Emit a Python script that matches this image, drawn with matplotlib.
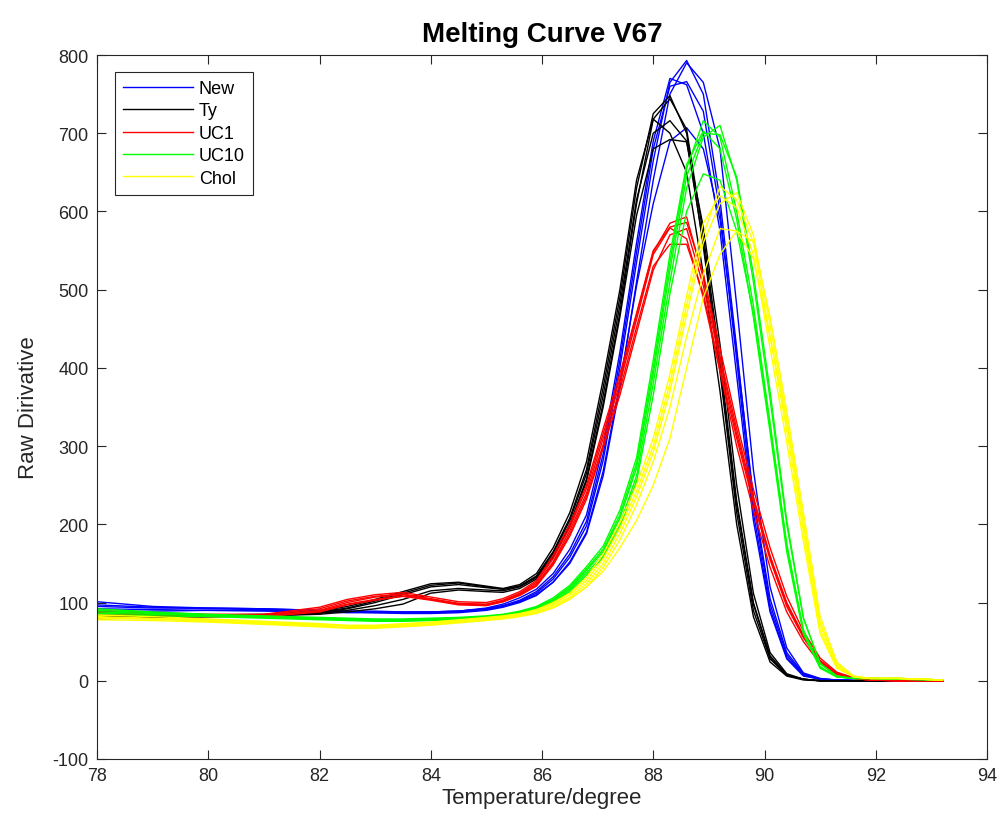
import matplotlib
matplotlib.use('Agg')
import matplotlib.pyplot as plt

plt.rcParams['font.family'] = ['Liberation Sans', 'DejaVu Sans']
plt.rcParams['axes.unicode_minus'] = False

# temperature grid (degree)
temps = [78, 79, 80, 81, 82, 82.5, 83, 83.5, 84, 84.5,
         85.0, 85.3, 85.6, 85.9, 86.2, 86.5, 86.8, 87.1, 87.4, 87.7,
         88.0, 88.3, 88.6, 88.9, 89.2, 89.5, 89.8, 90.1, 90.4, 90.7,
         91.0, 91.3, 91.6, 91.9, 92.4, 93.2]

# New (blue)
new_curves = [
    [97, 94, 92, 91, 89, 88, 88, 87, 87, 88, 91, 95, 102, 112, 130, 158, 198, 282, 400, 535, 665, 765, 793, 750, 615, 425, 228, 98, 33, 8, 2, 1, 1, 0, 0, 0],
    [101, 95, 93, 92, 90, 89, 88, 88, 88, 89, 92, 96, 101, 110, 126, 150, 188, 262, 375, 510, 640, 750, 790, 765, 680, 480, 270, 120, 42, 10, 3, 1, 0, 0, 0, 0],
    [92, 91, 90, 89, 88, 87, 87, 87, 88, 89, 93, 98, 106, 117, 137, 168, 212, 300, 420, 560, 690, 770, 762, 700, 575, 390, 205, 88, 28, 6, 2, 1, 0, 0, 0, 0],
    [88, 89, 90, 90, 89, 88, 87, 86, 86, 87, 90, 94, 100, 109, 126, 152, 190, 268, 380, 505, 610, 690, 707, 680, 590, 420, 235, 105, 36, 9, 2, 1, 0, 0, 0, 0],
    [95, 93, 93, 92, 90, 89, 89, 88, 88, 89, 92, 96, 103, 114, 133, 162, 204, 290, 410, 548, 680, 760, 766, 728, 600, 410, 215, 92, 30, 7, 2, 1, 0, 0, 0, 0],
]

# Ty (black)
ty_curves = [
    [80, 82, 83, 84, 88, 93, 102, 112, 122, 125, 120, 117, 121, 134, 165, 208, 270, 375, 490, 630, 725, 748, 700, 555, 395, 215, 90, 28, 7, 2, 0, 0, 0, 0, 0, 0],
    [82, 83, 84, 85, 89, 95, 104, 114, 124, 126, 121, 118, 123, 137, 170, 215, 280, 385, 500, 640, 718, 744, 705, 570, 410, 230, 100, 32, 8, 2, 0, 0, 0, 0, 0, 0],
    [79, 81, 82, 83, 86, 90, 96, 104, 115, 118, 116, 115, 120, 132, 160, 200, 258, 355, 470, 610, 718, 700, 650, 520, 370, 200, 82, 24, 6, 1, 0, 0, 0, 0, 0, 0],
    [81, 82, 83, 84, 87, 92, 100, 110, 120, 123, 119, 117, 121, 133, 163, 205, 265, 365, 480, 615, 700, 716, 690, 560, 400, 225, 98, 30, 7, 2, 0, 0, 0, 0, 0, 0],
    [80, 81, 82, 83, 85, 88, 92, 98, 112, 116, 114, 113, 118, 130, 158, 198, 255, 350, 465, 595, 680, 692, 689, 580, 430, 250, 112, 36, 9, 2, 0, 0, 0, 0, 0, 0],
]

# UC1 (red)
uc1_curves = [
    [88, 86, 84, 84, 92, 102, 108, 111, 105, 99, 98, 103, 112, 126, 156, 196, 246, 316, 386, 468, 548, 585, 593, 515, 415, 322, 235, 160, 100, 58, 26, 10, 3, 1, 0, 0],
    [86, 85, 83, 83, 90, 100, 107, 110, 104, 98, 97, 102, 111, 124, 152, 192, 240, 310, 380, 462, 545, 579, 565, 490, 395, 300, 218, 145, 88, 50, 22, 8, 3, 1, 0, 0],
    [90, 87, 85, 85, 94, 104, 110, 113, 107, 101, 100, 105, 114, 128, 160, 200, 250, 322, 392, 470, 550, 580, 586, 520, 425, 330, 245, 170, 108, 63, 29, 11, 4, 1, 0, 0],
    [87, 85, 83, 82, 89, 98, 104, 108, 103, 97, 96, 101, 110, 122, 150, 188, 236, 302, 372, 452, 530, 558, 558, 495, 400, 310, 228, 155, 95, 55, 24, 9, 3, 1, 0, 0],
    [84, 84, 82, 82, 88, 97, 103, 108, 104, 98, 97, 101, 109, 121, 148, 185, 232, 298, 365, 445, 525, 570, 578, 505, 410, 315, 232, 158, 98, 57, 25, 9, 3, 1, 0, 0],
]

# UC10 (green)
uc10_curves = [
    [88, 86, 84, 82, 80, 79, 78, 78, 79, 80, 82, 84, 88, 94, 104, 120, 143, 168, 212, 278, 400, 535, 655, 716, 695, 600, 480, 330, 175, 65, 18, 5, 3, 3, 3, 1],
    [86, 85, 83, 81, 79, 78, 77, 77, 78, 79, 81, 83, 87, 92, 101, 116, 138, 160, 200, 262, 380, 510, 630, 695, 710, 640, 510, 360, 200, 80, 22, 6, 3, 3, 2, 1],
    [92, 88, 85, 83, 81, 80, 79, 79, 80, 81, 83, 85, 89, 95, 106, 122, 146, 172, 218, 285, 410, 545, 660, 703, 680, 590, 465, 318, 165, 60, 16, 5, 3, 3, 3, 1],
    [84, 83, 82, 80, 78, 77, 76, 76, 77, 78, 80, 82, 86, 91, 100, 114, 135, 158, 196, 255, 365, 495, 600, 648, 640, 575, 470, 325, 172, 62, 17, 5, 3, 3, 2, 1],
    [90, 87, 84, 82, 80, 79, 78, 78, 79, 80, 82, 84, 88, 93, 103, 118, 141, 165, 208, 272, 392, 525, 645, 700, 698, 644, 520, 370, 205, 80, 22, 6, 3, 3, 2, 1],
]

# Chol (yellow)
chol_curves = [
    [82, 80, 78, 75, 72, 70, 70, 72, 74, 77, 80, 82, 85, 90, 98, 110, 128, 156, 195, 242, 300, 380, 480, 570, 632, 615, 560, 440, 320, 190, 65, 18, 5, 3, 3, 1],
    [80, 79, 77, 74, 71, 70, 69, 71, 73, 76, 79, 81, 84, 88, 96, 107, 124, 150, 188, 235, 292, 370, 468, 560, 610, 624, 570, 455, 335, 205, 75, 22, 6, 3, 3, 1],
    [84, 82, 79, 76, 73, 71, 71, 73, 75, 78, 81, 83, 86, 91, 100, 112, 132, 162, 202, 250, 310, 392, 492, 585, 620, 605, 545, 425, 305, 178, 60, 16, 5, 3, 3, 1],
    [78, 77, 75, 72, 69, 67, 67, 69, 71, 74, 77, 79, 82, 86, 93, 104, 120, 145, 180, 225, 280, 350, 440, 520, 578, 575, 540, 440, 330, 200, 72, 20, 5, 3, 3, 1],
    [81, 79, 76, 73, 70, 68, 68, 70, 72, 75, 78, 80, 83, 87, 94, 105, 120, 140, 170, 205, 250, 310, 400, 490, 545, 575, 561, 465, 345, 215, 82, 24, 6, 3, 3, 1],
]

groups = ['New', 'Ty', 'UC1', 'UC10', 'Chol']
colors = ['#0000ff', '#000000', '#ff0000', '#00ff00', '#ffff00']
all_curves = [new_curves, ty_curves, uc1_curves, uc10_curves, chol_curves]

fig = plt.figure(figsize=(10, 8.2), dpi=100)
ax = fig.add_axes([0.097, 0.0732, 0.89, 0.8585])

for name, col, curves in zip(groups, colors, all_curves):
    for i, c in enumerate(curves):
        ax.plot(temps, c, color=col, lw=1.0, label=name if i == 0 else None)

ax.set_xlim(78, 94)
ax.set_ylim(-100, 800)
ax.set_xticks(range(78, 95, 2))
ax.set_yticks(range(-100, 801, 100))
ax.tick_params(direction='in', length=6.5, width=0.8, labelsize=13,
               top=True, right=True, colors='#262626', pad=6)
for s in ax.spines.values():
    s.set_color('#262626')
    s.set_linewidth(0.8)

ax.set_title('Melting Curve V67', fontsize=20, fontweight='bold', pad=10)
ax.set_xlabel('Temperature/degree', fontsize=16, color='#262626', labelpad=2)
ax.set_ylabel('Raw Dirivative', fontsize=16, color='#262626', labelpad=10)

leg = ax.legend(loc='upper left', bbox_to_anchor=(0.02, 0.976), borderaxespad=0,
                fontsize=13, handlelength=3.9, handletextpad=0.3,
                labelspacing=0.3, fancybox=False, framealpha=1,
                edgecolor='#262626', borderpad=0.45)
leg.get_frame().set_linewidth(0.8)

fig.savefig('out.png', dpi=100)
